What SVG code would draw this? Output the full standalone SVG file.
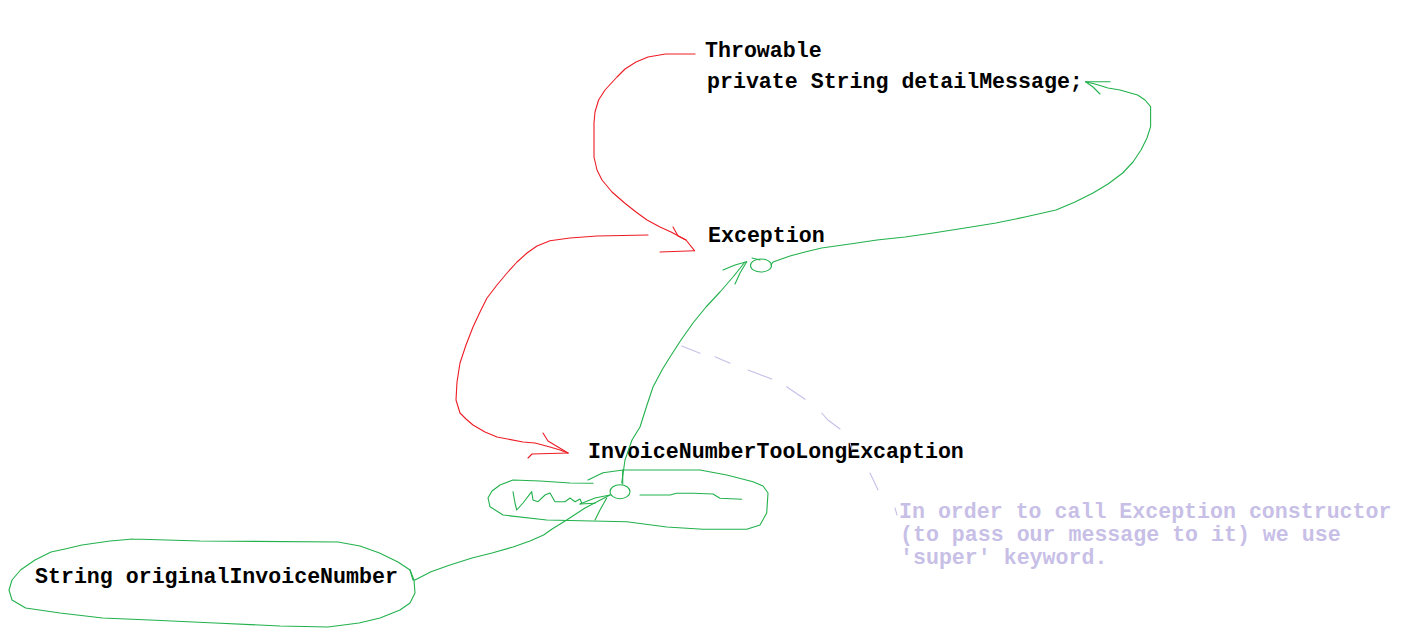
<svg xmlns="http://www.w3.org/2000/svg" width="1403" height="640" viewBox="0 0 1403 640">
<style>
  .t { font-family: "Liberation Mono", "Courier New", monospace; font-weight: bold; font-size: 21.6px; fill: #000; }
  .note { font-family: "Liberation Mono", "Courier New", monospace; font-weight: bold; font-size: 21.6px; fill: #c8bfe7; }
  .red { fill: none; stroke: #ed1c24; stroke-width: 1.1; stroke-linejoin: round; stroke-linecap: round; }
  .green { fill: none; stroke: #22b14c; stroke-width: 1.1; stroke-linejoin: round; stroke-linecap: round; }
  .dash { fill: none; stroke: #c8bfe7; stroke-width: 1.1; stroke-linecap: round; }
</style>
<rect width="1403" height="640" fill="#fff"/>

<g id="throwable">
  <text class="t" x="705" y="57">Throwable</text>
  <text class="t" x="707" y="88">private String detailMessage;</text>
</g>

<g id="exception">
  <text class="t" x="708" y="242">Exception</text>
  <ellipse class="green" cx="761" cy="265.5" rx="10.5" ry="6.5"/>
</g>

<g id="invoice-exception">
  <text class="t" x="588" y="458">InvoiceNumberTooLongExcaption</text>
  <path class="green" d="M593,483.3 L570,483 L540,481 L513,480 L500,485 L492,491 L488,498 L490,506.7 L503,515 L546.7,520 L626.7,521.7 L666.7,527 L703,529.3 L746.7,529.3 L760,525 L766.7,513 L768,493 L763,486 L753,481.7 L726.7,475 L700,470 L623,470 L603,472.7 L588,480"/>
  <ellipse class="green" cx="620" cy="491.7" rx="10" ry="7"/>
  <path class="green" d="M622.7,470 L622.7,484"/>
  <path class="green" d="M513,491.7 L515,503 L516.7,510 L523,503 L531.7,491.7 L533,500 L538,501.7 L545,495 L550,493 L555,501.7 L565,501.7 L570,498 L575,501.7 L580,499 L581.7,503"/>
  <path class="green" d="M640,495 L670,495 L676.7,493.3 L693,493.3 L713,494 L720,498.3 L741.7,499.3"/>
</g>

<g id="string-field">
  <text class="t" x="35" y="583">String originalInvoiceNumber</text>
  <path class="green" d="M133,539 L200,541 L338,542 L360,546 L379.5,553 L398,562 L410,570 L414,580 L415,593 L410,603 L400,610 L380,618 L359,623 L328,627 L280,626 L215,623 L150,620 L102.6,618 L60,613 L25.6,608 L12,600 L9,590 L12,580 L20.5,570 L35,560 L51,552 L65,549 L82,545 L110,541 L133,539"/>
</g>

<g id="note">
  <text class="note" x="899" y="518">In order to call Exception constructor</text>
  <text class="note" x="900" y="541">(to pass our message to it) we use</text>
  <text class="note" x="900" y="564">'super' keyword.</text>
</g>

<g id="connectors">
  <!-- Throwable -> Exception (red) -->
  <path class="red" d="M695,54 L665.5,54 L648,57 L636,62 L625,69 L617,77 L605,90 L598.6,100 L595,112 L594,123 L594,140 L594,157 L597,170 L602,180 L612,192 L624.6,203 L636,212 L647,220 L660,227 L671,232 L686,240 L694.5,250.7"/>
  <path class="red" d="M673,227 L678,236 L686,240"/>
  <path class="red" d="M660,252 L694.5,250.7"/>
  <!-- Exception -> InvoiceNumberTooLongExcaption (red) -->
  <path class="red" d="M648,235 L597,236 L570,238 L550,240.7 L537,246 L527,253 L517,262 L507,273 L497,285 L487,298 L480,312 L473,327 L466,345 L460,363 L457,382 L456,400 L460,413 L466,419 L473,425 L485,432 L497,437 L523,442 L535,443 L550,447 L560,450 L568,453"/>
  <path class="red" d="M543,433 L548,441 L558,447 L568,453"/>
  <path class="red" d="M528,458 L532,454 L568,453"/>
  <!-- Invoice -> Exception circle (green) -->
  <path class="green" d="M595,520 L600,510 L606.7,498 M621.7,483 L625,460 L632,440 L640,427 L647,405 L653,387 L662,370 L670,357 L681,340 L693,323 L706,307 L720,292 L733,277 L745,262"/>
  <path class="green" d="M723,270 L735,265 L746.7,261.7"/>
  <path class="green" d="M735,284 L740,273 L746.7,261.7"/>
  <path class="green" d="M752,258 L760,260"/>
  <!-- Exception circle -> detailMessage (green) -->
  <path class="green" d="M771,265 L773,262 L790,256 L805,252 L821.6,248 L850,244 L877,240 L905,237 L933,233 L965,228 L996,223 L1025,217 L1056,210 L1075,202 L1093,193 L1108,184 L1122.7,173 L1133,162 L1141,150 L1147,138 L1150.6,126.7 L1150.6,106.7 L1145,100 L1137.6,95 L1120,90 L1108,88 L1095,84 L1085.6,81.7"/>
  <path class="green" d="M1085.6,81.7 L1110,81.7"/>
  <path class="green" d="M1085.6,81.7 L1093,87 L1100,94"/>
  <!-- String field -> invoice circle (green) -->
  <path class="green" d="M410,570 L413,580 L415,580 L431,571.7 L450,565 L472,558 L492,553 L513,547 L530,541 L543.6,535 L551.7,529.3 L566.7,520 L585,508 L610,495"/>
  <path class="green" d="M580,504 L595,498 L610,495"/>
  <path class="green" d="M580,504 L595,503.3"/>
  <!-- note pointer (purple dashed) -->
  <path class="dash" d="M681.7,346 L700,353.3 M715,356.7 L730,363.3 M748,370 L771.7,379 M786.7,386.7 L805,399.3 M821.7,413 L828,420 L840,429 M850,442.7 L852,450 M870,473 L878,490 M895,508 L897,515"/>
</g>
</svg>
